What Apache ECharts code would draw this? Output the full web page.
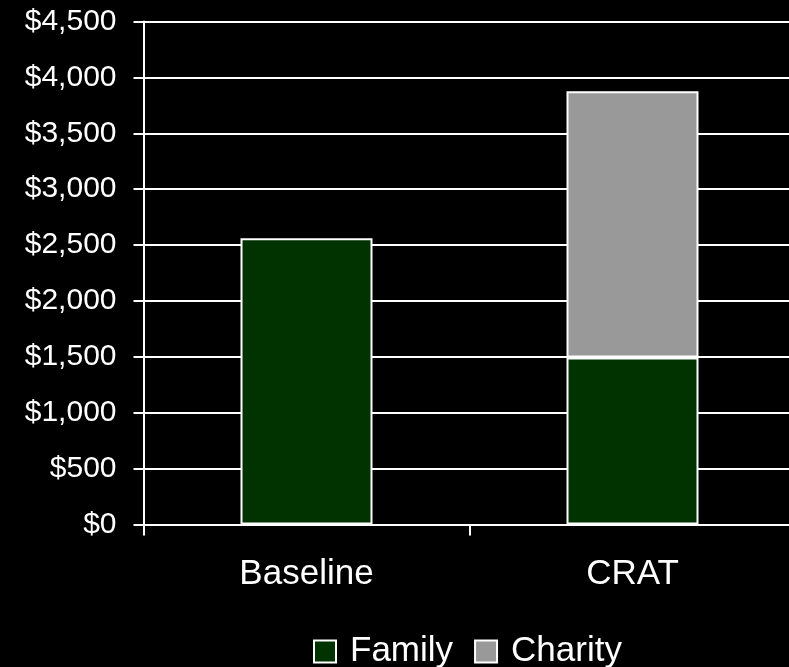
<!DOCTYPE html>
<html>
<head>
<meta charset="utf-8">
<style>
  html, body { margin: 0; padding: 0; background: #000; }
  #chart { width: 789px; height: 667px; }
</style>
<script src="https://cdn.jsdelivr.net/npm/echarts@6/dist/echarts.min.js"></script>
</head>
<body>
<div id="chart"></div>
<script>
const categories = ['Baseline', 'CRAT'];
const familyValues = [2560, 1495];
const charityValues = ['-', 2380];
const seriesNames = ['Family', 'Charity'];
const yMin = 0, yMax = 4500, yStep = 500;

const FONT = '"Liberation Sans", Arial, sans-serif';
const chart = echarts.init(document.getElementById('chart'));
chart.setOption({
  animation: false,
  backgroundColor: '#000000',
  grid: { left: 143.5, width: 652, top: 21.5, height: 503, containLabel: false, outerBoundsMode: 'none' },
  legend: {
    data: seriesNames,
    left: 313,
    top: 634,
    padding: 0,
    itemWidth: 22,
    itemHeight: 22,
    itemGap: 21,
    icon: 'rect',
    textStyle: { color: '#ffffff', fontSize: 35, fontFamily: FONT, lineHeight: 34, padding: [0, 0, 0, 9] }
  },
  xAxis: {
    type: 'category',
    data: categories,
    boundaryGap: true,
    axisLine: { show: true, lineStyle: { color: '#ffffff', width: 2 } },
    axisTick: { show: true, length: 11, lineStyle: { color: '#ffffff', width: 2 } },
    axisLabel: { color: '#ffffff', fontSize: 35, fontFamily: FONT, margin: 32 },
    splitLine: { show: false }
  },
  yAxis: {
    type: 'value',
    min: yMin,
    max: yMax,
    interval: yStep,
    axisLine: { show: true, lineStyle: { color: '#ffffff', width: 2 } },
    axisTick: { show: true, length: 10, lineStyle: { color: '#ffffff', width: 2 } },
    axisLabel: {
      color: '#ffffff', fontSize: 30, fontFamily: FONT, margin: 27,
      formatter: v => '$' + v.toLocaleString('en-US')
    },
    splitLine: { show: true, lineStyle: { color: '#ffffff', width: 2 } }
  },
  series: [
    {
      name: seriesNames[0], type: 'bar', stack: 'total', data: familyValues, barWidth: 132,
      itemStyle: { color: '#003300', borderColor: '#ffffff', borderWidth: 2 }
    },
    {
      name: seriesNames[1], type: 'bar', stack: 'total', data: charityValues, barWidth: 132,
      itemStyle: { color: '#999999', borderColor: '#ffffff', borderWidth: 2 }
    }
  ]
});
</script>
</body>
</html>
